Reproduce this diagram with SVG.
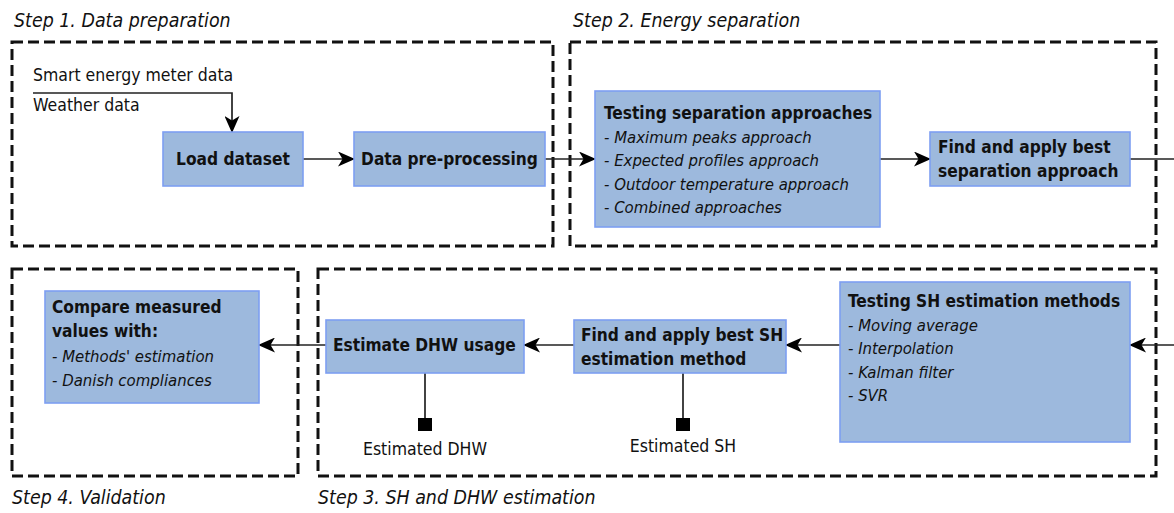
<svg xmlns="http://www.w3.org/2000/svg" width="1174" height="513" viewBox="0 0 1174 513">
<defs>
<style>
.step{fill:none;stroke:#111;stroke-width:3;stroke-dasharray:11 5}
.steplbl{font-family:"DejaVu Sans Condensed","DejaVu Sans",sans-serif;font-style:italic;font-size:19.4px;fill:#111}
.box{fill:#9db9dd;stroke:#7e9ff2;stroke-width:1.6}
.b{font-family:"DejaVu Sans Condensed","DejaVu Sans",sans-serif;font-weight:bold;font-size:17.2px;fill:#111}
.i{font-family:"DejaVu Sans Condensed","DejaVu Sans",sans-serif;font-style:italic;font-size:16.6px;fill:#111}
.t{font-family:"DejaVu Sans Condensed","DejaVu Sans",sans-serif;font-size:17.5px;fill:#111}
.c{fill:none;stroke:#222;stroke-width:1.7}
.a{marker-end:url(#ah)}
</style>
<marker id="ah" markerUnits="userSpaceOnUse" markerWidth="17" markerHeight="15" refX="16" refY="7.5" orient="auto">
<path d="M0,0 L17,7.5 L0,15 L4.5,7.5 z" fill="#000"/>
</marker>
</defs>

<g id="step1">
<rect class="step" x="12" y="42" width="541" height="204"/>
<text class="steplbl" x="14" y="27">Step 1. Data preparation</text>
</g>
<g id="step2">
<rect class="step" x="570" y="42" width="586" height="204"/>
<text class="steplbl" x="573" y="27">Step 2. Energy separation</text>
</g>
<g id="step4">
<rect class="step" x="12" y="269" width="286" height="207"/>
<text class="steplbl" x="12" y="504">Step 4. Validation</text>
</g>
<g id="step3">
<rect class="step" x="318" y="269" width="838" height="207"/>
<text class="steplbl" x="318" y="504">Step 3. SH and DHW estimation</text>
</g>

<g id="connectors">
<path class="c a" d="M33,93 H232 V132"/>
<path class="c a" d="M303,159 H354"/>
<path class="c a" d="M545,159 H595"/>
<path class="c a" d="M880,159 H930"/>
<path class="c" d="M1130,159 H1174"/>
<path class="c a" d="M1174,345 H1130"/>
<path class="c a" d="M840,345 H786"/>
<path class="c a" d="M574,345 H524"/>
<path class="c a" d="M326,345 H259"/>
<path class="c" d="M425,373 V420"/>
<rect x="418" y="418" width="14" height="13" fill="#000"/>
<path class="c" d="M683,373 V420"/>
<rect x="676" y="418" width="14" height="13" fill="#000"/>
</g>

<g id="inputs">
<text class="t" x="33" y="81">Smart energy meter data</text>
<text class="t" x="33" y="111">Weather data</text>
</g>

<g id="load">
<rect class="box" x="163" y="132" width="140" height="54"/>
<text class="b" x="233" y="165" text-anchor="middle">Load dataset</text>
</g>
<g id="preproc">
<rect class="box" x="354" y="132" width="191" height="54"/>
<text class="b" x="449.5" y="165" text-anchor="middle">Data pre-processing</text>
</g>
<g id="testsep">
<rect class="box" x="595" y="91" width="285" height="136"/>
<text class="b" x="604" y="119">Testing separation approaches</text>
<text class="i" x="604" y="143">- Maximum peaks approach</text>
<text class="i" x="604" y="166">- Expected profiles approach</text>
<text class="i" x="604" y="190">- Outdoor temperature approach</text>
<text class="i" x="604" y="213">- Combined approaches</text>
</g>
<g id="findsep">
<rect class="box" x="930" y="132" width="200" height="54"/>
<text class="b" x="938" y="153">Find and apply best</text>
<text class="b" x="938" y="177">separation approach</text>
</g>

<g id="testsh">
<rect class="box" x="840" y="282" width="290" height="160"/>
<text class="b" x="848" y="307">Testing SH estimation methods</text>
<text class="i" x="848" y="331">- Moving average</text>
<text class="i" x="848" y="354">- Interpolation</text>
<text class="i" x="848" y="378">- Kalman filter</text>
<text class="i" x="848" y="401">- SVR</text>
</g>
<g id="findsh">
<rect class="box" x="574" y="320" width="212" height="53"/>
<text class="b" x="581" y="341">Find and apply best SH</text>
<text class="b" x="581" y="365">estimation method</text>
</g>
<g id="estdhw">
<rect class="box" x="326" y="320" width="198" height="53"/>
<text class="b" x="333" y="351">Estimate DHW usage</text>
</g>
<g id="compare">
<rect class="box" x="45" y="291" width="214" height="112"/>
<text class="b" x="52" y="313">Compare measured</text>
<text class="b" x="52" y="337">values with:</text>
<text class="i" x="52" y="362">- Methods' estimation</text>
<text class="i" x="52" y="386">- Danish compliances</text>
</g>

<g id="outputs">
<text class="t" x="425" y="455" text-anchor="middle">Estimated DHW</text>
<text class="t" x="683" y="452" text-anchor="middle">Estimated SH</text>
</g>
</svg>
